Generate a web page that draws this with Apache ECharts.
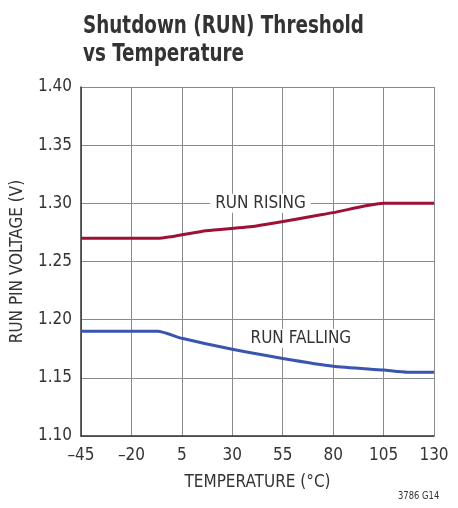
<!DOCTYPE html>
<html><head><meta charset="utf-8">
<script src="https://cdn.jsdelivr.net/npm/echarts@6/dist/echarts.min.js"></script>
<style>html,body{margin:0;padding:0;background:#fff}#c{width:458px;height:508px}</style>
</head><body><div id="c"></div>
<script>
// Data (temperature in °C, voltage in V)
var risingTemps = [-45, -7, 17, 42, 80, 105, 130];
var risingVolts = [1.270, 1.270, 1.2765, 1.2805, 1.292, 1.300, 1.300];
var fallingTemps = [-45, -7, 5, 30, 55, 80, 105, 117, 130];
var fallingVolts = [1.190, 1.190, 1.184, 1.1745, 1.1667, 1.160, 1.1567, 1.1548, 1.1548];
var xTicks = [-45, -20, 5, 30, 55, 80, 105, 130];
var yTicks = [1.10, 1.15, 1.20, 1.25, 1.30, 1.35, 1.40];
var X0 = -45; // axis origin offset (so ticks start at a multiple of interval)

function pts(t, v) { return t.map(function (x, i) { return [x - X0, v[i]]; }); }
var font = '"Liberation Sans Narrow","DejaVu Sans Condensed","Liberation Sans",sans-serif';
var chart = echarts.init(document.getElementById('c'), null, {renderer: 'canvas'});
chart.setOption({
  animation: false,
  backgroundColor: '#fff',
  graphic: [{
    type: 'text', x: 83, y: 13, scaleX: 0.85,
    style: {text: 'Shutdown (RUN) Threshold\nvs Temperature', font: 'bold 24px ' + font, fill: '#333', lineHeight: 28}
  }, {
    type: 'text', x: 398, y: 491, scaleX: 0.85,
    style: {text: '3786 G14', font: '11px ' + font, fill: '#333'}
  }],
  grid: {left: 81, right: 24, top: 87, bottom: 72},
  xAxis: {
    type: 'value', min: xTicks[0] - X0, max: xTicks[xTicks.length - 1] - X0, interval: 25,
    name: 'TEMPERATURE (°C)', nameLocation: 'middle', nameGap: 38,
    nameTextStyle: {fontFamily: font, fontSize: 17, color: '#333'},
    axisLine: {show: true, lineStyle: {color: '#333', width: 1.5}},
    axisTick: {show: false},
    axisLabel: {fontFamily: font, fontSize: 17, color: '#333', margin: 11,
      formatter: function (v) { var t = Math.round(v + X0); return t < 0 ? '\u2013' + (-t) : String(t); }},
    splitLine: {show: true, lineStyle: {color: '#8a8a8a', width: 1}}
  },
  yAxis: {
    type: 'value', min: yTicks[0], max: yTicks[yTicks.length - 1], interval: 0.05,
    name: 'RUN PIN VOLTAGE (V)', nameLocation: 'middle', nameGap: 55,
    nameTextStyle: {fontFamily: font, fontSize: 17, color: '#333'},
    axisLine: {show: true, lineStyle: {color: '#333', width: 1.5}},
    axisTick: {show: false},
    axisLabel: {fontFamily: font, fontSize: 17, color: '#333', margin: 9,
      formatter: function (v) { return v.toFixed(2); }},
    splitLine: {show: true, lineStyle: {color: '#8a8a8a', width: 1}}
  },
  series: [
    {
      type: 'line', data: pts(risingTemps, risingVolts), showSymbol: false, smooth: 0.2,
      lineStyle: {color: '#9e1035', width: 3}, z: 3,
      markPoint: {symbol: 'rect', symbolSize: 0, silent: true,
        data: [{coord: [44 - X0, 1.30], value: 'RUN RISING'}],
        label: {show: true, position: 'inside', formatter: 'RUN RISING', fontFamily: font, fontSize: 17,
          color: '#333', backgroundColor: '#fff', padding: [1, 5]}}
    },
    {
      type: 'line', data: pts(fallingTemps, fallingVolts), showSymbol: false, smooth: 0.2,
      lineStyle: {color: '#3a55b0', width: 3}, z: 3,
      markPoint: {symbol: 'rect', symbolSize: 0, silent: true,
        data: [{coord: [64 - X0, 1.184], value: 'RUN FALLING'}],
        label: {show: true, position: 'inside', formatter: 'RUN FALLING', fontFamily: font, fontSize: 17,
          color: '#333', backgroundColor: '#fff', padding: [1, 5]}}
    }
  ]
});
</script></body></html>
